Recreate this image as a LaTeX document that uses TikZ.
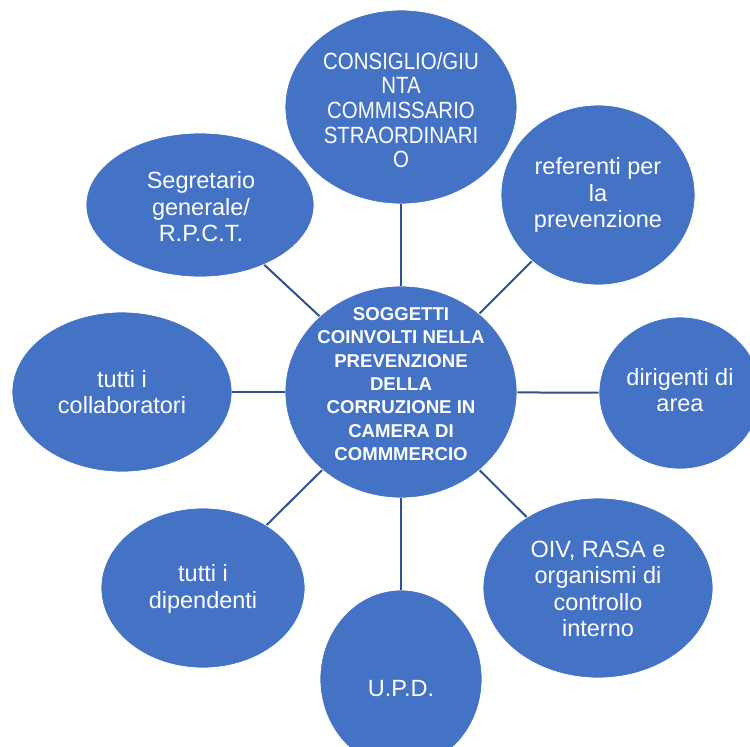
\documentclass[tikz,border=0pt]{standalone}
\usepackage{fontspec}
\setmainfont{Liberation Sans}
\newfontfamily\narrowfont[FakeStretch=0.87]{Liberation Sans}
\usetikzlibrary{shapes.geometric}
\definecolor{bubblue}{HTML}{4472C4}
\definecolor{linkblue}{HTML}{2F528F}
\begin{document}
\begin{tikzpicture}[x=1pt,y=-1pt,
  bub/.style={ellipse, fill=bubblue, draw=white, line width=0.8pt, inner sep=0pt},
  txt/.style={text=white, align=center, inner sep=0pt, font=\fontsize{23.5}{26.5}\selectfont},
  toptxt/.style={text=white, align=center, inner sep=0pt, font=\narrowfont\fontsize{23.5}{24.7}\selectfont},
  ctxt/.style={text=white, align=center, inner sep=0pt, font=\bfseries\fontsize{18.6}{23.3}\selectfont},
  link/.style={draw=linkblue, line width=2pt}]
\useasboundingbox (0,0) rectangle (750,747);
\clip (0,0) rectangle (750,747);
% bubbles
\node[bub, minimum width=232pt, minimum height=212pt] (c)   at (401,392) {};
\node[bub, minimum width=232pt, minimum height=194pt] (top) at (401,107) {};
\node[bub, minimum width=194pt, minimum height=180pt] (ref) at (598,195) {};
\node[bub, minimum width=228pt, minimum height=144pt] (seg) at (200,205) {};
\node[bub, minimum width=220pt, minimum height=160pt] (col) at (122,392) {};
\node[bub, minimum width=162pt, minimum height=152pt] (dir) at (680,393) {};
\node[bub, minimum width=230pt, minimum height=180pt] (oiv) at (598,588) {};
\node[bub, minimum width=204pt, minimum height=160pt] (dip) at (203,588) {};
\node[bub, minimum width=162pt, minimum height=178pt] (upd) at (401,679) {};
% connectors
\draw[link] (c) -- (top);
\draw[link] (c) -- (ref);
\draw[link] (c) -- (seg);
\draw[link] (c) -- (col);
\draw[link] (c) -- (dir);
\draw[link] (c) -- (oiv);
\draw[link] (c) -- (dip);
\draw[link] (c) -- (upd);
% texts
\node[ctxt] (ct) at (401,384) {SOGGETTI\\COINVOLTI NELLA\\PREVENZIONE\\DELLA\\CORRUZIONE IN\\CAMERA DI\\COMMMERCIO};
\node[toptxt] (topt) at (401,110) {CONSIGLIO/GIU\\NTA\\COMMISSARIO\\STRAORDINARI\\O};
\node[txt] (reft) at (598,195) {referenti per\\la\\prevenzione};
\node[txt] (segt) at (201,207) {Segretario\\generale/\\R.P.C.T.};
\node[txt] (colt) at (122,392) {tutti i\\collaboratori};
\node[txt] (dirt) at (680,390) {dirigenti di\\area};
\node[txt] (oivt) at (598,589) {OIV, RASA e\\organismi di\\controllo\\interno};
\node[txt] (dipt) at (203,589) {tutti i\\dipendenti};
\node[txt] (updt) at (401,689) {U.P.D.};
\end{tikzpicture}
\end{document}
